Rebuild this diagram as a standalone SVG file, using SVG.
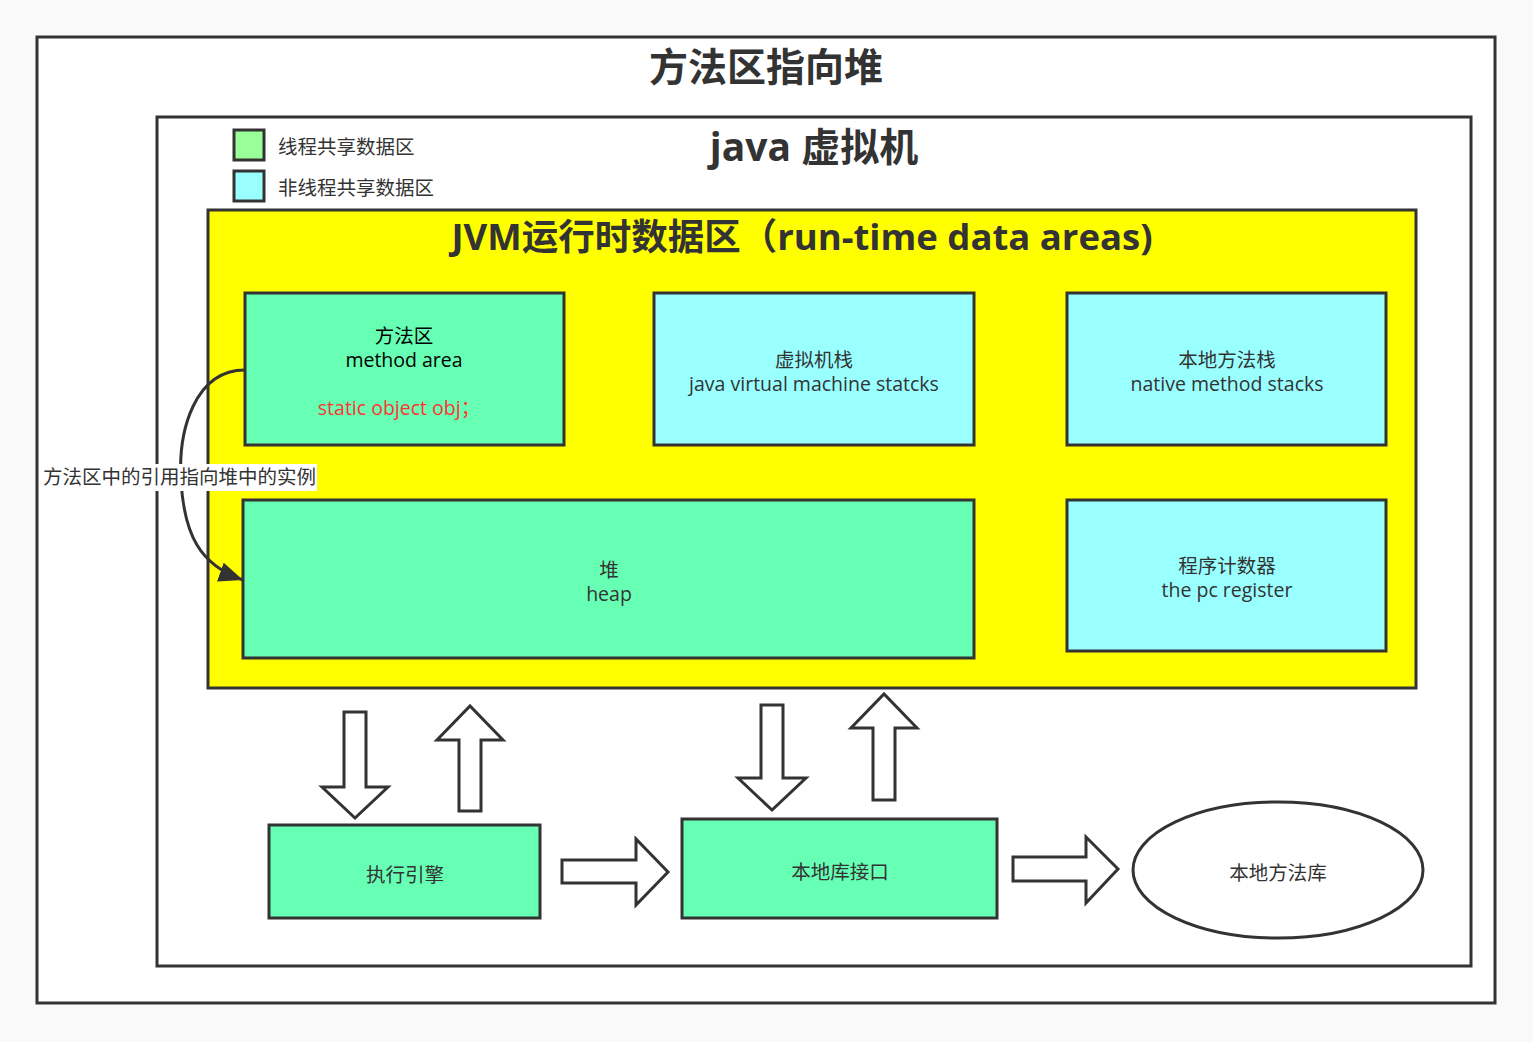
<svg xmlns="http://www.w3.org/2000/svg" width="1533" height="1042" viewBox="0 0 1533 1042">
<style>
.t{font-family:"Open Sans","Noto Sans CJK SC","Liberation Sans",sans-serif;fill:#333;}
.b{font-weight:bold;}
.box{stroke:#333;stroke-width:3;}
.arr{fill:#fff;stroke:#333;stroke-width:3;stroke-linejoin:miter;}
.g{fill:#66FFB3;}
.c{fill:#99FFFF;}
</style>
<defs>
<marker id="ah2" viewBox="0 0 24 20" refX="24" refY="10" markerWidth="24" markerHeight="20" markerUnits="userSpaceOnUse" orient="auto">
<path d="M0,0 L24,10 L0,20 z" fill="#333"/>
</marker>
</defs>
<rect x="0" y="0" width="1533" height="1042" fill="#F9F9F9"/>
<g id="outer">
<rect x="37" y="37" width="1458" height="966" fill="#fff" class="box"/>
<text class="t b" x="766" y="81" font-size="39" text-anchor="middle">方法区指向堆</text>
</g>
<g id="jvm">
<rect x="157" y="117" width="1314" height="849" fill="#fff" class="box"/>
<text class="t b" x="814" y="161" font-size="39" text-anchor="middle">java 虚拟机</text>
</g>
<g id="legend">
<rect x="234" y="130" width="30" height="30" fill="#99FF99" class="box"/>
<text class="t" x="278" y="154" font-size="19.5">线程共享数据区</text>
<rect x="234" y="171" width="30" height="30" fill="#99FFFF" class="box"/>
<text class="t" x="278" y="195" font-size="19.5">非线程共享数据区</text>
</g>
<g id="runtime">
<rect x="208" y="210" width="1208" height="478" fill="#FFFF00" class="box"/>
<text class="t b" x="802" y="250" font-size="36.5" text-anchor="middle">JVM运行时数据区（run-time data areas)</text>
</g>
<g id="method-area">
<rect x="245" y="293" width="319" height="152" class="box g"/>
<text class="t" x="404" y="343" font-size="19.5" text-anchor="middle" style="fill:#000">方法区</text>
<text class="t" x="404" y="367" font-size="19.5" text-anchor="middle" style="fill:#000">method area</text>
<text class="t" x="399" y="415" font-size="19.5" text-anchor="middle" style="fill:#FF3333">static object obj；</text>
</g>
<g id="jvm-stacks">
<rect x="654" y="293" width="320" height="152" class="box c"/>
<text class="t" x="814" y="367" font-size="19.5" text-anchor="middle">虚拟机栈</text>
<text class="t" x="814" y="391" font-size="19.5" text-anchor="middle">java virtual machine statcks</text>
</g>
<g id="native-stacks">
<rect x="1067" y="293" width="319" height="152" class="box c"/>
<text class="t" x="1227" y="367" font-size="19.5" text-anchor="middle">本地方法栈</text>
<text class="t" x="1227" y="391" font-size="19.5" text-anchor="middle">native method stacks</text>
</g>
<g id="heap">
<rect x="243" y="500" width="731" height="158" class="box g"/>
<text class="t" x="609" y="577" font-size="19.5" text-anchor="middle">堆</text>
<text class="t" x="609" y="601" font-size="19.5" text-anchor="middle">heap</text>
</g>
<g id="pc-register">
<rect x="1067" y="500" width="319" height="151" class="box c"/>
<text class="t" x="1227" y="573" font-size="19.5" text-anchor="middle">程序计数器</text>
<text class="t" x="1227" y="597" font-size="19.5" text-anchor="middle">the pc register</text>
</g>
<g id="exec-engine">
<rect x="269" y="825" width="271" height="93" class="box g"/>
<text class="t" x="405" y="882" font-size="19.5" text-anchor="middle">执行引擎</text>
</g>
<g id="native-interface">
<rect x="682" y="819" width="315" height="99" class="box g"/>
<text class="t" x="840" y="879" font-size="19.5" text-anchor="middle">本地库接口</text>
</g>
<g id="native-lib">
<ellipse cx="1278" cy="870" rx="145" ry="68" fill="#fff" class="box"/>
<text class="t" x="1278" y="880" font-size="19.5" text-anchor="middle">本地方法库</text>
</g>
<g id="connectors">
<path d="M245,370 C195,370 178,430 181,480 C184,535 200,565 243,580" fill="none" stroke="#333" stroke-width="3" marker-end="url(#ah2)"/>
<rect x="43" y="464" width="274" height="27" fill="#fff"/>
<text class="t" x="43" y="484" font-size="19.5">方法区中的引用指向堆中的实例</text>
<polygon class="arr" points="344,712 366,712 366,787 388,787 355,818 322,787 344,787"/>
<polygon class="arr" points="459,811 481,811 481,740 503,740 470,706 437,740 459,740"/>
<polygon class="arr" points="761,705 783,705 783,778 806,778 772,810 738,778 761,778"/>
<polygon class="arr" points="873,800 895,800 895,728 917,728 884,694 851,728 873,728"/>
<polygon class="arr" points="562,860 636,860 636,839 668,872 636,905 636,883 562,883"/>
<polygon class="arr" points="1013,857 1086,857 1086,837 1118,869 1086,903 1086,881 1013,881"/>
</g>
</svg>
